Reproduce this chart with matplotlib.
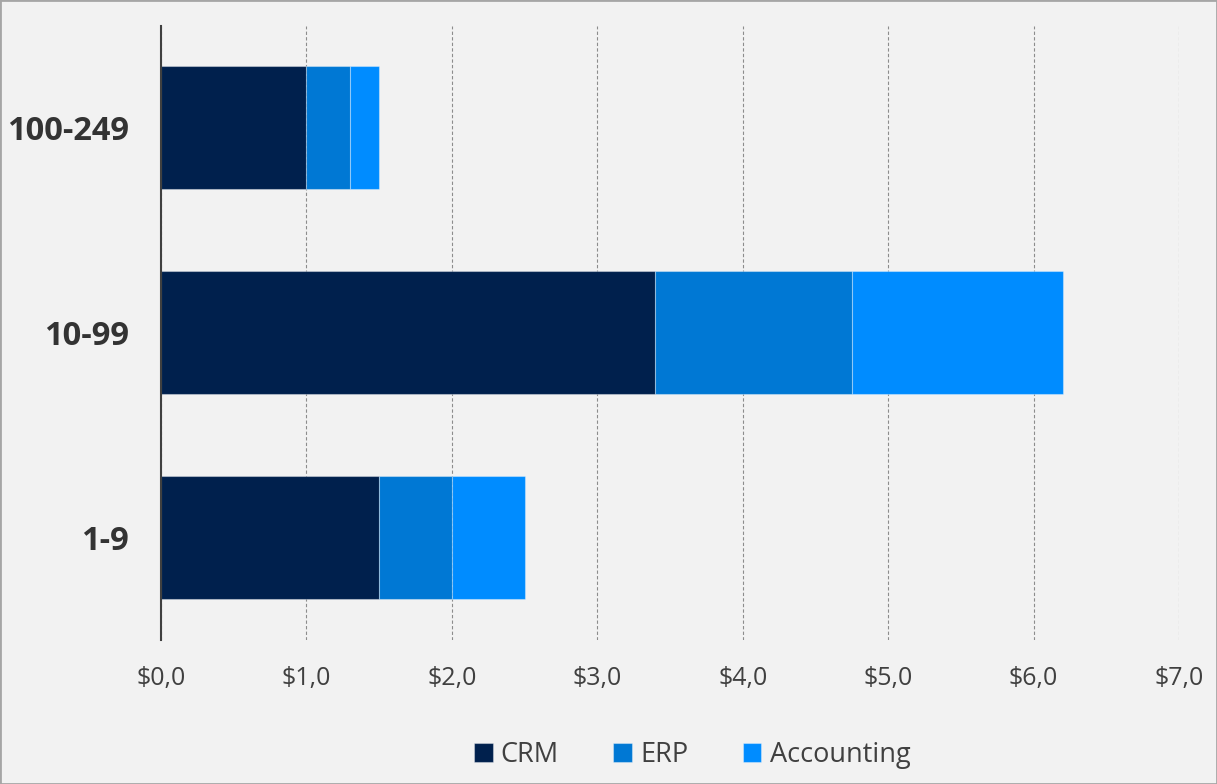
import matplotlib
matplotlib.use("Agg")
import matplotlib.pyplot as plt
from matplotlib.patches import Rectangle

categories = ["1-9", "10-99", "100-249"]
series_names = ["CRM", "ERP", "Accounting"]
crm = [1.5, 3.4, 1.0]
erp = [0.5, 1.35, 0.3]
accounting = [0.5, 1.45, 0.2]
x_ticks = [0, 1, 2, 3, 4, 5, 6, 7]
x_tick_labels = ["$0,0", "$1,0", "$2,0", "$3,0", "$4,0", "$5,0", "$6,0", "$7,0"]

colors = ["#00204D", "#0078D4", "#008CFF"]
bg = "#F2F2F2"

plt.rcParams['font.family'] = ['Open Sans', 'DejaVu Sans']

fig = plt.figure(figsize=(12.17, 7.84), dpi=100, facecolor=bg)
ax = fig.add_axes([161/1217, 144/784, (1179-161)/1217, (758.5-144)/784])
ax.set_facecolor(bg)

ypos = list(range(len(categories)))
left = [0.0] * len(categories)
for name, vals, c in zip(series_names, [crm, erp, accounting], colors):
    ax.barh(ypos, vals, left=left, height=0.6, color=c, label=name,
            edgecolor=(1, 1, 1, 0.35), linewidth=0.8, zorder=3)
    left = [l + v for l, v in zip(left, vals)]

ax.set_xlim(0, 7)
ax.set_ylim(-0.5, 2.5)
ax.set_xticks(x_ticks)
ax.set_xticklabels(x_tick_labels, fontsize=18, color="#404040")
ax.set_yticks(ypos)
ax.set_yticklabels(categories, fontsize=23.5, fontweight="bold", color="#333333")
ax.tick_params(axis='both', length=0)
ax.tick_params(axis='x', pad=19)
ax.tick_params(axis='y', pad=23)

ax.xaxis.grid(True, linestyle=(0, (3, 2)), color="#8C8C8C", linewidth=0.8, zorder=0)
ax.yaxis.grid(False)
for s in ["top", "right", "bottom"]:
    ax.spines[s].set_visible(False)
ax.spines["left"].set_color("#404040")
ax.spines["left"].set_linewidth(1.5)
ax.spines["left"].set_zorder(4)

leg = fig.legend(loc="center", bbox_to_anchor=(692/1217, 1 - 755/784), ncol=3,
                 frameon=False, fontsize=19.5, handlelength=0.7, handleheight=0.7,
                 handletextpad=0.3, columnspacing=2.0, labelcolor="#404040")

fig.add_artist(Rectangle((0, 0), 1, 1, transform=fig.transFigure, fill=False,
                         edgecolor="#A6A6A6", linewidth=2.0))

fig.savefig("out.png", dpi=100, facecolor=bg)
